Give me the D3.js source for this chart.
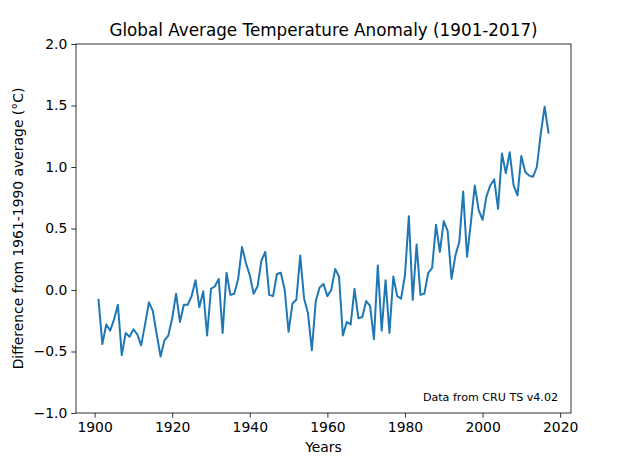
<!DOCTYPE html>
<html>
<head>
<meta charset="utf-8">
<script src="https://cdn.jsdelivr.net/npm/d3@7"></script>
<style>
  body { margin: 0; background: #fff; }
  svg { display: block; font-family: "DejaVu Sans", sans-serif; }
</style>
</head>
<body>
<svg id="chart" width="622" height="460"></svg>
<script>
const startYear = 1901;
const anomalies = [
  -0.08, -0.44, -0.28, -0.33, -0.24, -0.12, -0.53, -0.35, -0.38, -0.32,
  -0.36, -0.45, -0.28, -0.10, -0.17, -0.36, -0.54, -0.41, -0.37, -0.23,
  -0.03, -0.26, -0.12, -0.12, -0.05, 0.08, -0.14, -0.01, -0.37, 0.01,
  0.03, 0.09, -0.35, 0.14, -0.04, -0.03, 0.09, 0.35, 0.22, 0.12,
  -0.03, 0.03, 0.24, 0.31, -0.04, -0.05, 0.13, 0.14, 0.00, -0.34,
  -0.11, -0.08, 0.28, -0.07, -0.19, -0.49, -0.09, 0.02, 0.05, -0.05,
  0.00, 0.17, 0.11, -0.37, -0.26, -0.28, 0.01, -0.23, -0.22, -0.09,
  -0.13, -0.40, 0.20, -0.33, 0.08, -0.35, 0.11, -0.05, -0.07, 0.12,
  0.60, -0.08, 0.37, -0.04, -0.03, 0.14, 0.18, 0.53, 0.31, 0.56,
  0.48, 0.09, 0.28, 0.39, 0.80, 0.27, 0.55, 0.85, 0.65, 0.57,
  0.76, 0.85, 0.90, 0.66, 1.11, 0.95, 1.12, 0.85, 0.77, 1.09,
  0.96, 0.93, 0.92, 1.00, 1.27, 1.49, 1.28
];
const years = anomalies.map((_, i) => startYear + i);
const xTicks = [1900, 1920, 1940, 1960, 1980, 2000, 2020];
const yTicks = [-1.0, -0.5, 0.0, 0.5, 1.0, 1.5, 2.0];
const titleText = "Global Average Temperature Anomaly (1901-2017)";
const xLabel = "Years";
const yLabel = "Difference from 1961-1990 average (°C)";
const noteText = "Data from CRU TS v4.02";

const svg = d3.select("#chart");
const L = 76, R = 571, T = 44, B = 413;
const span = years[years.length - 1] - years[0];
const x = d3.scaleLinear()
  .domain([years[0] - span * 0.05, years[years.length - 1] + span * 0.05])
  .range([L, R]);
const y = d3.scaleLinear().domain([-1, 2]).range([B, T]);

const fs = 13.9;
const xAxis = svg.append("g").attr("transform", `translate(0,${B})`)
  .call(d3.axisBottom(x).tickValues(xTicks).tickFormat(d3.format("d")).tickSize(4.7).tickPadding(4));
const yAxis = svg.append("g").attr("transform", `translate(${L},0)`)
  .call(d3.axisLeft(y).tickValues(yTicks).tickFormat(d => d3.format(".1f")(d).replace("-", "\u2212")).tickSize(4.7).tickPadding(4));
[xAxis, yAxis].forEach(g => {
  g.select(".domain").remove();
  g.selectAll("line").attr("stroke", "#000").attr("stroke-width", 0.8);
  g.selectAll("text").attr("font-size", fs).attr("fill", "#000").attr("font-family", "DejaVu Sans");
});

const line = d3.line().x((d, i) => x(years[i])).y(d => y(d));
svg.append("path").datum(anomalies)
  .attr("d", line).attr("fill", "none")
  .attr("stroke", "#1f77b4").attr("stroke-width", 2)
  .attr("stroke-linejoin", "round").attr("stroke-linecap", "square");

svg.append("rect").attr("x", L).attr("y", T).attr("width", R - L).attr("height", B - T)
  .attr("fill", "none").attr("stroke", "#000").attr("stroke-width", 0.8);

svg.append("text").attr("x", (L + R) / 2).attr("y", 36).attr("text-anchor", "middle")
  .attr("font-size", 16.8).text(titleText);
svg.append("text").attr("x", (L + R) / 2).attr("y", 452).attr("text-anchor", "middle")
  .attr("font-size", fs).text(xLabel);
svg.append("text").attr("transform", `translate(23,${(T + B) / 2}) rotate(-90)`)
  .attr("text-anchor", "middle").attr("font-size", fs).text(yLabel);
svg.append("text").attr("x", 558).attr("y", 401).attr("text-anchor", "end")
  .attr("font-size", 11.1).text(noteText);
</script>
</body>
</html>
